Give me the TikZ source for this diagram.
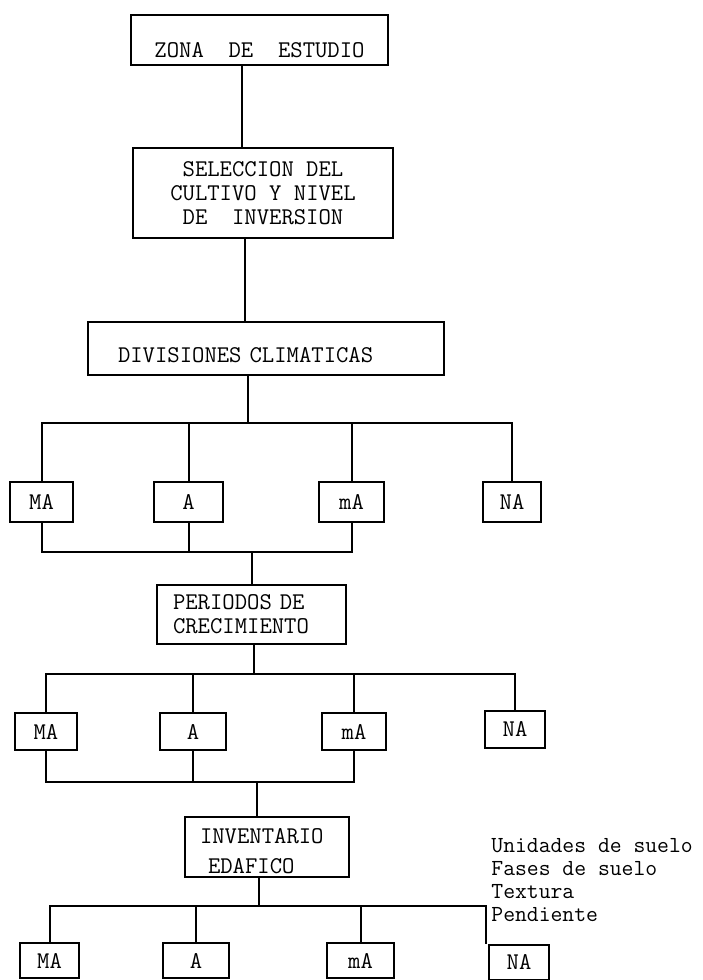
\documentclass[tikz,border=0pt]{standalone}
\usepackage{tikz}
\tikzset{
  caja/.style={draw, line width=1pt, inner sep=0pt,
    font=\fontsize{12}{12}\selectfont\ttfamily, align=center},
  linea/.style={line width=1pt},
}

\begin{document}
\begin{tikzpicture}[x=0.5pt, y=-0.5pt]
  %% Frame (pixel units, y downwards)
  \useasboundingbox (0,0) rectangle (702,980);
  \clip (0,0) rectangle (702,980);

  %% Main boxes
  \node[caja, minimum width=128.5pt, minimum height=25pt, text height=17pt, text depth=0pt] (zona) at (259.5,40) {ZONA~~DE~~ESTUDIO};
  \node[caja, minimum width=130pt, minimum height=45pt] (sel) at (263,193) {SELECCION DEL\\CULTIVO Y NIVEL\\DE~~INVERSION};
  \node[caja, align=left, text width=148pt, minimum width=178pt, minimum height=26.5pt, text height=13.8pt, text depth=0pt] (div) at (266,348.5) {DIVISIONES CLIMATICAS};
  \node[caja, align=left, text width=78.5pt, minimum width=94.5pt, minimum height=29.5pt] (per) at (251.5,614.5) {PERIODOS DE\\CRECIMIENTO};
  \node[caja, align=left, text width=67pt, minimum width=82pt, minimum height=30pt] (inv) at (267,847) {\rule{0pt}{12pt}INVENTARIO\\[3pt]~EDAFICO};

  %% Trunk points
  \coordinate (t1) at (242,0);
  \coordinate (t2) at (245,0);
  \coordinate (b1) at (248,423);
  \coordinate (m1) at (252,552);
  \coordinate (b2) at (254,674);
  \coordinate (m2) at (257,782);
  \coordinate (b3) at (259,906);

  %% Classes after climate
  \node[caja, minimum width=31.5pt, minimum height=20pt] (muy1) at (41.5,502) {MA};
  \node[caja, minimum width=34.5pt, minimum height=20pt] (apto1) at (188.5,502) {A};
  \node[caja, minimum width=32.5pt, minimum height=20pt] (marg1) at (351.5,502) {mA};
  \node[caja, minimum width=29pt, minimum height=20pt] (noap1) at (512,502) {NA};

  %% Classes after growing periods
  \node[caja, minimum width=31pt, minimum height=18.5pt] (muy2) at (46,731.5) {MA};
  \node[caja, minimum width=33pt, minimum height=18.5pt] (apto2) at (193,731.5) {A};
  \node[caja, minimum width=32pt, minimum height=18.5pt] (marg2) at (354,731.5) {mA};
  \node[caja, minimum width=30pt, minimum height=18.5pt] (noap2) at (515,729) {NA};

  %% Classes after soil inventory
  \node[caja, minimum width=29.5pt, minimum height=17.5pt] (muy3) at (49.5,960.5) {MA};
  \node[caja, minimum width=33pt, minimum height=17.5pt] (apto3) at (196,960.5) {A};
  \node[caja, minimum width=33.5pt, minimum height=17.5pt] (marg3) at (360.5,960.5) {mA};
  \node[caja, minimum width=30pt, minimum height=17.5pt] (noap3) at (519,962) {NA};

  %% Soil attributes
  \node[anchor=north west, inner sep=0pt, align=left,
    font=\fontsize{11.5}{11.5}\selectfont\ttfamily] (suelo) at (491,838)
    {Unidades de suelo\\Fases de suelo\\Textura\\Pendiente};

  %% Top chain
  \draw[linea] (zona.south -| t1) -- (sel.north -| t1);
  \draw[linea] (sel.south -| t2) -- (div.north -| t2);

  %% Climate split and merge
  \draw[linea] (div.south -| b1) -- (b1);
  \draw[linea] (muy1.north) |- (b1) -| (noap1.north);
  \draw[linea] (apto1.north) -- (apto1.north |- b1);
  \draw[linea] (marg1.north) -- (marg1.north |- b1);
  \draw[linea] (muy1.south) |- (marg1.south |- m1) -- (marg1.south);
  \draw[linea] (apto1.south) -- (apto1.south |- m1);
  \draw[linea] (m1) -- (per.north -| m1);

  %% Growing period split and merge
  \draw[linea] (per.south -| b2) -- (b2);
  \draw[linea] (muy2.north) |- (b2) -| (noap2.north);
  \draw[linea] (apto2.north) -- (apto2.north |- b2);
  \draw[linea] (marg2.north) -- (marg2.north |- b2);
  \draw[linea] (muy2.south) |- (marg2.south |- m2) -- (marg2.south);
  \draw[linea] (apto2.south) -- (apto2.south |- m2);
  \draw[linea] (m2) -- (inv.north -| m2);

  %% Soil split
  \draw[linea] (inv.south -| b3) -- (b3);
  \draw[linea] (muy3.north) |- (b3) -| ([xshift=-1pt]noap3.north west);
  \draw[linea] (apto3.north) -- (apto3.north |- b3);
  \draw[linea] (marg3.north) -- (marg3.north |- b3);
\end{tikzpicture}
\end{document}
